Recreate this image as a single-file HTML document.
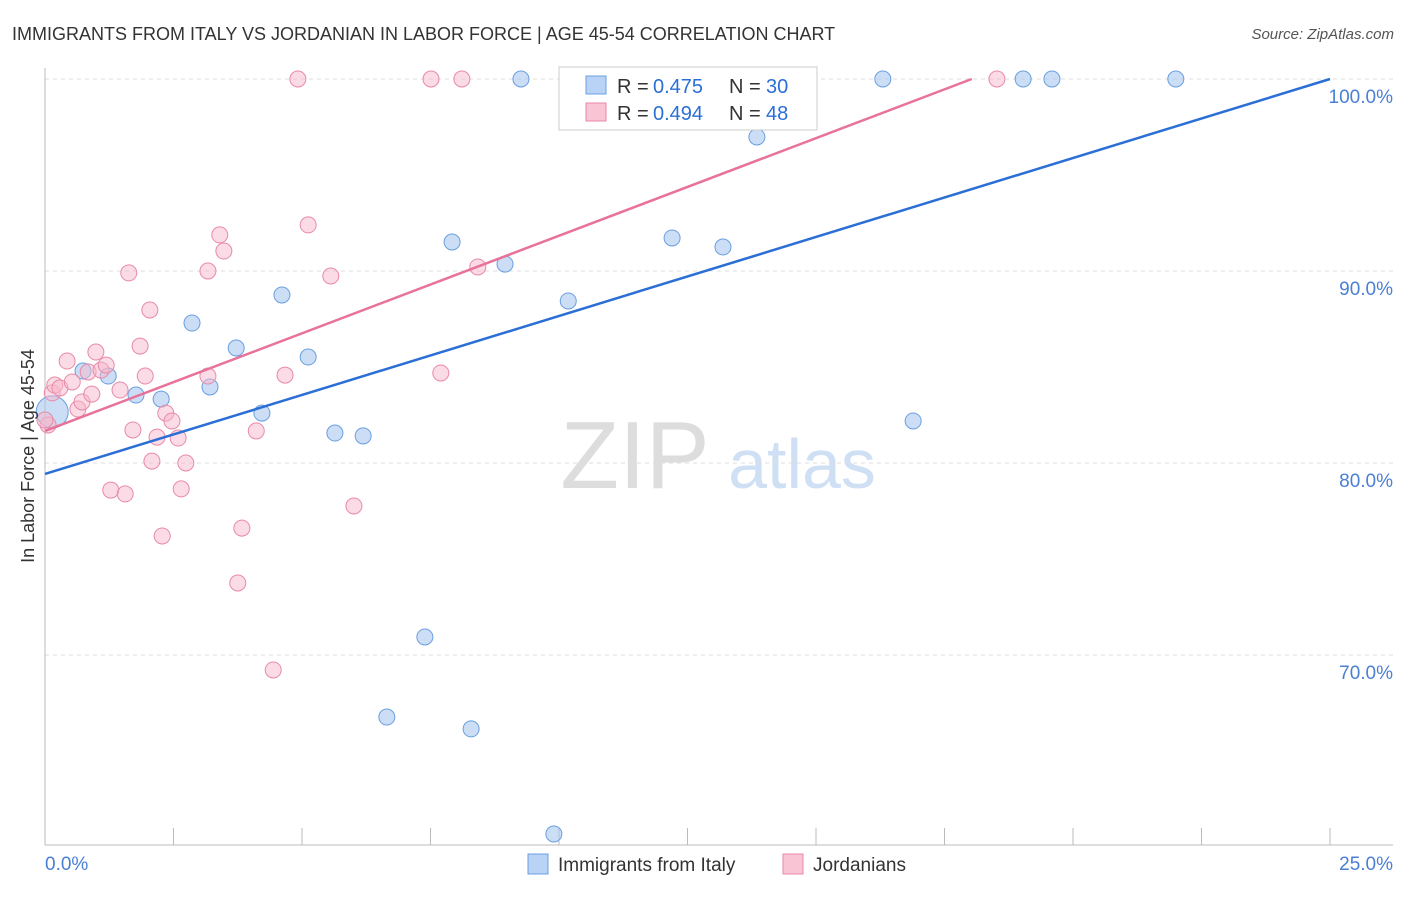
<!DOCTYPE html>
<html><head><meta charset="utf-8"><style>
body{margin:0;background:#fff;font-family:"Liberation Sans",sans-serif;}
svg text{font-family:"Liberation Sans",sans-serif;}
</style></head><body>
<svg id="chart" width="1406" height="892" xmlns="http://www.w3.org/2000/svg">
<text x="12" y="40" font-size="18" fill="#333">IMMIGRANTS FROM ITALY VS JORDANIAN IN LABOR FORCE | AGE 45-54 CORRELATION CHART</text>
<text x="1394" y="39" font-size="15" fill="#555" text-anchor="end" font-style="italic">Source: ZipAtlas.com</text>
<g>
<text x="635" y="488" font-size="96" fill="#ddd" text-anchor="middle" font-family="Liberation Serif">ZIP</text>
<text x="802" y="488" font-size="70" fill="#cfe0f5" text-anchor="middle">atlas</text>
</g>
<g id="grid"></g>
<g id="axes"></g>
<g id="marks"></g>
<g>
<rect x="559" y="67" width="258" height="63" fill="#fff" stroke="#ccc"/>
<rect x="586" y="76" width="20" height="18" fill="#b8d3f5" stroke="#6a9fe0"/>
<rect x="586" y="103" width="20" height="18" fill="#f9c4d4" stroke="#e88aa8"/>
<text x="617" y="93" font-size="20" fill="#333">R =</text>
<text x="653" y="93" font-size="20" fill="#2b6fd6">0.475</text>
<text x="729" y="93" font-size="20" fill="#333">N =</text>
<text x="766" y="93" font-size="20" fill="#2b6fd6">30</text>
<text x="617" y="120" font-size="20" fill="#333">R =</text>
<text x="653" y="120" font-size="20" fill="#2b6fd6">0.494</text>
<text x="729" y="120" font-size="20" fill="#333">N =</text>
<text x="766" y="120" font-size="20" fill="#2b6fd6">48</text>
</g>
<text transform="translate(34,456) rotate(-90)" font-size="18" fill="#333" text-anchor="middle">In Labor Force | Age 45-54</text>
<g>
<rect x="528" y="854" width="20" height="20" fill="#b8d3f5" stroke="#6a9fe0"/>
<text x="558" y="871" font-size="19" fill="#333">Immigrants from Italy</text>
<rect x="783" y="854" width="20" height="20" fill="#f9c4d4" stroke="#e88aa8"/>
<text x="813" y="871" font-size="19" fill="#333">Jordanians</text>
</g>
</svg>
<script>
const yTicks=[100,90,80,70];
const yTickLabels=["100.0%","90.0%","80.0%","70.0%"];
const xTickLabels=["0.0%","25.0%"];
const italyX=[0.14,0.74,1.23,1.77,2.26,2.86,3.21,3.72,4.22,4.61,5.12,5.64,6.19,6.65,7.39,7.92,8.29,8.95,9.26,9.90,10.18,11.13,12.20,13.19,13.85,16.30,16.89,19.03,19.59,22.00];
const italyY=[82.66,84.79,84.53,83.54,83.33,87.29,83.96,85.99,82.60,88.75,85.52,81.56,81.41,66.77,70.94,91.51,66.15,90.36,100,60.68,88.44,100,91.72,91.25,96.98,100,82.19,100,100,100];
const jordX=[0.06,0.14,0.19,0.29,0.43,0.53,0.64,0.72,0.84,0.91,0.99,1.09,1.19,1.28,1.46,1.56,1.63,1.71,1.85,1.95,2.04,2.08,2.18,2.28,2.35,2.47,2.59,2.65,2.74,3.17,3.17,3.40,3.48,3.75,3.83,4.11,4.44,4.67,4.92,5.12,5.56,6.01,7.51,7.70,8.11,8.42,18.52,0.0];
const jordY=[81.98,83.65,84.06,83.91,85.31,84.22,82.81,83.18,84.74,83.59,85.78,84.84,85.10,78.59,83.80,78.39,89.90,81.72,86.09,84.53,87.97,80.10,81.35,76.20,82.60,82.19,81.30,78.65,80.00,90.00,84.53,91.88,91.04,73.75,76.61,81.67,69.22,84.58,100,92.40,89.74,77.76,100,84.69,100,90.21,100,82.24];
const italyLine=[[0,79.43],[25,100]];
const jordLine=[[0,81.67],[18.03,100]];
const NS="http://www.w3.org/2000/svg";
function xs(v){return 45+v*51.4;}
function ys(v){return 79+(100-v)*19.2;}
function mk(t,a,p){const e=document.createElementNS(NS,t);for(const k in a)e.setAttribute(k,a[k]);p.appendChild(e);return e;}
const grid=document.getElementById('grid'),axes=document.getElementById('axes'),marks=document.getElementById('marks');
yTicks.forEach((t,i)=>{
 const l=mk('line',{x1:45,x2:1393,y1:ys(t),y2:ys(t),stroke:'#ddd','stroke-dasharray':'4,4'},grid);
 
 
 const tx=mk('text',{x:1393,y:ys(t)+24,'font-size':19,fill:'#4a7fd4','text-anchor':'end'},axes);
 tx.textContent=yTickLabels[i];
 
 
});
let a=mk('line',{x1:45,x2:45,y1:68,y2:845,stroke:'#bbb'},axes);


a=mk('line',{x1:45,x2:1393,y1:845,y2:845,stroke:'#bbb'},axes);


for(let i=1;i<=10;i++){const t=mk('line',{x1:xs(i*2.5),x2:xs(i*2.5),y1:828,y2:845,stroke:'#bbb'},axes);
 
 }
[[0,'start',45],[25,'end',1393]].forEach((d,i)=>{const t=mk('text',{x:d[2],y:870,'font-size':19,fill:'#4a7fd4','text-anchor':d[1]},axes);t.textContent=xTickLabels[i];
 
 });
italyX.forEach((x,i)=>{const c=mk('circle',{cx:xs(x),cy:ys(italyY[i]),r:i==0?16:8,fill:'rgba(169,200,240,0.6)',stroke:'#6a9fe0','stroke-width':1},marks);
 
 });
jordX.forEach((x,i)=>{const c=mk('circle',{cx:xs(x),cy:ys(jordY[i]),r:8,fill:'rgba(247,184,203,0.5)',stroke:'#e88aa8','stroke-width':1},marks);
 
 });
let ln=mk('line',{x1:xs(italyLine[0][0]),y1:ys(italyLine[0][1]),x2:xs(italyLine[1][0]),y2:ys(italyLine[1][1]),stroke:'#2b6fd6','stroke-width':2.5},marks);


ln=mk('line',{x1:xs(jordLine[0][0]),y1:ys(jordLine[0][1]),x2:xs(jordLine[1][0]),y2:ys(jordLine[1][1]),stroke:'#e8729a','stroke-width':2.5},marks);


</script>
</body></html>
